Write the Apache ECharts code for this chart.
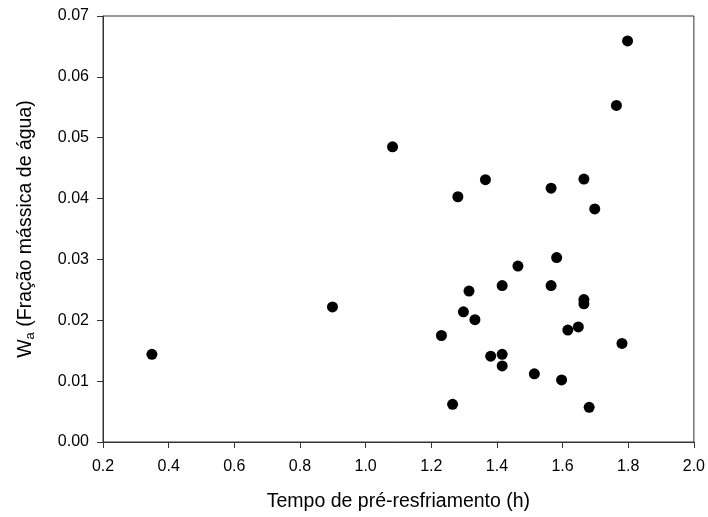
<!DOCTYPE html>
<html>
<head>
<meta charset="utf-8">
<script src="https://cdn.jsdelivr.net/npm/echarts@6/dist/echarts.min.js"></script>
<style>html,body{margin:0;padding:0;background:#fff;}#c{width:708px;height:517px;}</style>
</head>
<body>
<div id="c"></div>
<script>
const tempo = [0.349, 0.899, 1.082, 1.231, 1.265, 1.281, 1.298, 1.315, 1.333, 1.365, 1.381, 1.416, 1.416, 1.416, 1.464, 1.514, 1.565, 1.565, 1.582, 1.597, 1.616, 1.648, 1.665, 1.665, 1.665, 1.681, 1.698, 1.764, 1.781, 1.798];
const wa    = [0.0144, 0.0222, 0.0485, 0.0175, 0.0062, 0.0403, 0.0214, 0.0248, 0.0201, 0.0431, 0.0141, 0.0144, 0.0125, 0.0257, 0.0289, 0.0112, 0.0417, 0.0257, 0.0303, 0.0102, 0.0184, 0.0189, 0.0432, 0.0234, 0.0227, 0.0057, 0.0383, 0.0553, 0.0162, 0.0659];
const xTitle = 'Tempo de pré-resfriamento (h)';
const yTitleMain = 'W';
const yTitleSub = 'a';
const yTitleRest = ' (Fração mássica de água)';

const chart = echarts.init(document.getElementById('c'));
const font = 'Liberation Sans, Arial, sans-serif';
chart.setOption({
  animation: false,
  backgroundColor: '#fff',
  grid: { left: 103, right: 13, top: 16, bottom: 74, show: true, borderColor: '#333', borderWidth: 1, backgroundColor: 'transparent' },
  xAxis: {
    type: 'value', min: 0.2, max: 2.0, interval: 0.2,
    name: xTitle, nameLocation: 'middle', nameGap: 50,
    nameTextStyle: { fontFamily: font, fontSize: 19.5, color: '#000' },
    axisLine: { show: true, onZero: false, lineStyle: { color: '#333', width: 1 } },
    axisTick: { show: true, inside: false, length: 6, lineStyle: { color: '#333' } },
    axisLabel: { fontFamily: font, fontSize: 16, color: '#000', margin: 17, formatter: v => v.toFixed(1) },
    splitLine: { show: false }
  },
  yAxis: {
    type: 'value', min: 0, max: 0.07, interval: 0.01,
    name: '{m|' + yTitleMain + '}{s|' + yTitleSub + '}{m|' + yTitleRest + '}',
    nameLocation: 'middle', nameGap: 66, nameRotate: 90,
    nameTextStyle: { fontFamily: font, fontSize: 19.5, color: '#000',
      rich: { m: { fontFamily: font, fontSize: 19.5, color: '#000' }, s: { fontFamily: font, fontSize: 13, color: '#000', verticalAlign: 'bottom', padding: [10, 0, 0, 0] } } },
    axisLine: { show: true, onZero: false, lineStyle: { color: '#333', width: 1 } },
    axisTick: { show: true, inside: false, length: 6, lineStyle: { color: '#333' } },
    axisLabel: { fontFamily: font, fontSize: 16, color: '#000', margin: 14, formatter: v => v.toFixed(2) },
    splitLine: { show: false }
  },
  series: [{
    type: 'scatter',
    data: tempo.map((t, i) => [t, wa[i]]),
    symbol: 'circle', symbolSize: 11,
    itemStyle: { color: '#000', opacity: 1 }
  }]
});
</script>
</body>
</html>
